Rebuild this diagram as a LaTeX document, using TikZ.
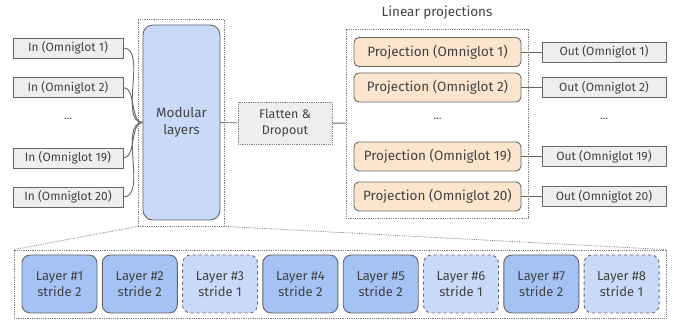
\documentclass[tikz,border=0pt]{standalone}
\usepackage{fontspec}
\setmainfont{Fira Sans}

\definecolor{boxgray}{HTML}{EEEEEE}
\definecolor{lightblue}{HTML}{C9DAF8}
\definecolor{midblue}{HTML}{A4C2F4}
\definecolor{peach}{HTML}{FCE5CD}
\definecolor{ink}{HTML}{434343}
\definecolor{rim}{HTML}{666666}

\tikzset{
  io/.style={draw=rim, fill=boxgray, line width=0.9pt, text=ink,
    minimum height=20, inner sep=0pt, font=\fontsize{12}{14}\selectfont},
  proj/.style={draw=rim, fill=peach, line width=0.9pt, text=ink, rounded corners=5,
    minimum width=167, minimum height=29, inner sep=0pt, font=\fontsize{13.5}{16}\selectfont},
  layer/.style={draw=rim, line width=0.9pt, text=ink, rounded corners=8, align=center,
    minimum width=75, minimum height=58, inner sep=0pt, font=\fontsize{13}{16}\selectfont},
  strided/.style={layer, fill=midblue},
  plain/.style={layer, fill=lightblue, dashed},
  group/.style={draw=gray, densely dotted, line width=0.8pt, inner sep=0pt},
  dots/.style={text=ink, font=\fontsize{11}{13}\selectfont},
  link/.style={draw=rim, line width=0.9pt}
}

\begin{document}
\begin{tikzpicture}[x=1pt, y=-1pt]
    \useasboundingbox (0,0) rectangle (678,320);

    % inputs
    \node[io, minimum width=110] (in1) at (68,48) {In (Omniglot 1)};
    \node[io, minimum width=110] (in2) at (68,87.5) {In (Omniglot 2)};
    \node[dots] (indots) at (68,119) {...};
    \node[io, minimum width=110] (in19) at (68,158) {In (Omniglot 19)};
    \node[io, minimum width=110] (in20) at (68,197) {In (Omniglot 20)};

    % shared trunk
    \node[group, minimum width=86, minimum height=207] (modgrp) at (181,122.5) {};
    \node[draw=rim, fill=lightblue, line width=0.9pt, text=ink, rounded corners=10, align=center,
      minimum width=77, minimum height=195, font=\fontsize{13.5}{17}\selectfont]
      (mod) at (181.5,122.5) {Modular\\layers};
    \node[group, fill=boxgray, text=ink, align=center, minimum width=94, minimum height=42,
      font=\fontsize{12.5}{16}\selectfont] (flat) at (285,123) {Flatten \&\\Dropout};

    % heads
    \node[text=ink, font=\fontsize{13.5}{16}\selectfont] (headtitle) at (437,13) {Linear projections};
    \node[group, minimum width=182, minimum height=189] (projgrp) at (437,123.5) {};
    \node[proj] (p1) at (437.5,52) {Projection (Omniglot 1)};
    \node[proj] (p2) at (437.5,87.5) {Projection (Omniglot 2)};
    \node[dots] (pdots) at (437.5,119) {...};
    \node[proj] (p19) at (437.5,156.5) {Projection (Omniglot 19)};
    \node[proj] (p20) at (437.5,196.5) {Projection (Omniglot 20)};

    % outputs
    \node[io, minimum width=124] (out1) at (604,52) {Out (Omniglot 1)};
    \node[io, minimum width=124] (out2) at (604,87.5) {Out (Omniglot 2)};
    \node[dots] (outdots) at (604,119) {...};
    \node[io, minimum width=124] (out19) at (604,156.5) {Out (Omniglot 19)};
    \node[io, minimum width=124] (out20) at (604,196.5) {Out (Omniglot 20)};

    % expanded trunk
    \node[group, minimum width=652, minimum height=68] (botgrp) at (340,284) {};
    \node[strided] (l1) at (59.5,284) {Layer \#1\\stride 2};
    \node[strided] (l2) at (139.8,284) {Layer \#2\\stride 2};
    \node[plain]   (l3) at (220.1,284) {Layer \#3\\stride 1};
    \node[strided] (l4) at (300.4,284) {Layer \#4\\stride 2};
    \node[strided] (l5) at (380.7,284) {Layer \#5\\stride 2};
    \node[plain]   (l6) at (461.0,284) {Layer \#6\\stride 1};
    \node[strided] (l7) at (541.3,284) {Layer \#7\\stride 2};
    \node[plain]   (l8) at (621.6,284) {Layer \#8\\stride 1};

    \foreach \i in {in1,in2,in19,in20}
      \draw[link] (\i.east) to[out=0, in=180, looseness=0.8] (mod.west);
    \draw[link] (mod) -- (flat);
    \draw[link] (flat) -- (projgrp);
    \foreach \i in {1,2,19,20}
      \draw[link] (p\i) -- (out\i);
    \draw[group] (modgrp.south west) -- (botgrp.north west);
    \draw[group] (modgrp.south east) -- (botgrp.north east);
\end{tikzpicture}
\end{document}
